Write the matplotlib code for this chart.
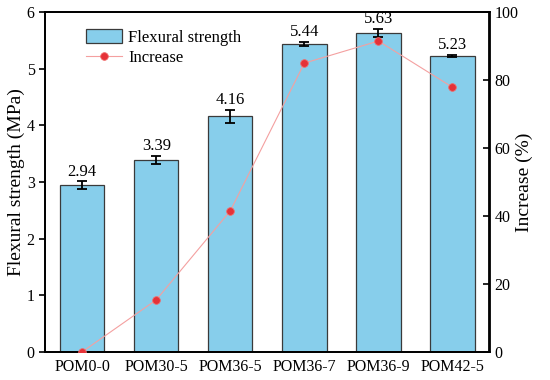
import matplotlib
matplotlib.use("Agg")
import matplotlib.pyplot as plt
import numpy as np

plt.rcParams['font.family'] = ['Liberation Serif', 'DejaVu Serif']

categories = ["POM0-0", "POM30-5", "POM36-5", "POM36-7", "POM36-9", "POM42-5"]
strength = [2.94, 3.39, 4.16, 5.44, 5.63, 5.23]
strength_err = [0.07, 0.07, 0.11, 0.03, 0.07, 0.02]
increase = [0.0, 15.3, 41.5, 85.0, 91.5, 77.9]

fig = plt.figure(figsize=(5.5, 3.8), dpi=100)
ax = fig.add_axes([0.082, 0.074, 0.808, 0.894])
x = np.arange(len(categories))
bars = ax.bar(x, strength, width=0.6, color="#87CEEB", edgecolor="#3a3a3a",
              linewidth=0.9, label="Flexural strength", zorder=2)
ax.errorbar(x, strength, yerr=strength_err, fmt="none", ecolor="black",
            elinewidth=1.3, capsize=3.5, capthick=1.3, zorder=3)
for xi, v, e in zip(x, strength, strength_err):
    ax.text(xi, v + e + 0.03, f"{v:.2f}", ha="center", va="bottom", fontsize=12)

ax.set_xlim(-0.5, 5.5)
ax.set_ylim(0, 6)
ax.set_xticks(x)
ax.set_xticklabels(categories, fontsize=11.5)
ax.tick_params(axis="x", length=0, pad=5)
ax.tick_params(axis="y", direction="out", labelsize=11.5, length=4, width=1.2)
ax.set_ylabel("Flexural strength (MPa)", fontsize=14, labelpad=1)
for s in ax.spines.values():
    s.set_linewidth(1.3)

ax2 = ax.twinx()
line, = ax2.plot(x, increase, color="#f4a0a0", linewidth=0.8, marker="o",
                 markersize=5.5, markerfacecolor="#e53238", markeredgecolor="#f06a6a",
                 markeredgewidth=0.6, label="Increase", zorder=4)
ax2.set_ylim(0, 100)
ax2.set_yticks([0, 20, 40, 60, 80, 100])
ax2.tick_params(axis="y", direction="in", labelsize=11.5, length=4, width=1.2)
ax2.set_ylabel("Increase (%)", fontsize=14, labelpad=-2)
for s in ax2.spines.values():
    s.set_linewidth(1.3)

ax.legend([bars, line], ["Flexural strength", "Increase"], loc="upper left",
          bbox_to_anchor=(0.065, 0.985), frameon=False, fontsize=12,
          handlelength=2.2, handleheight=0.95, borderaxespad=0.3, labelspacing=0.2,
          handletextpad=0.35)

fig.savefig("out.png", dpi=100)
